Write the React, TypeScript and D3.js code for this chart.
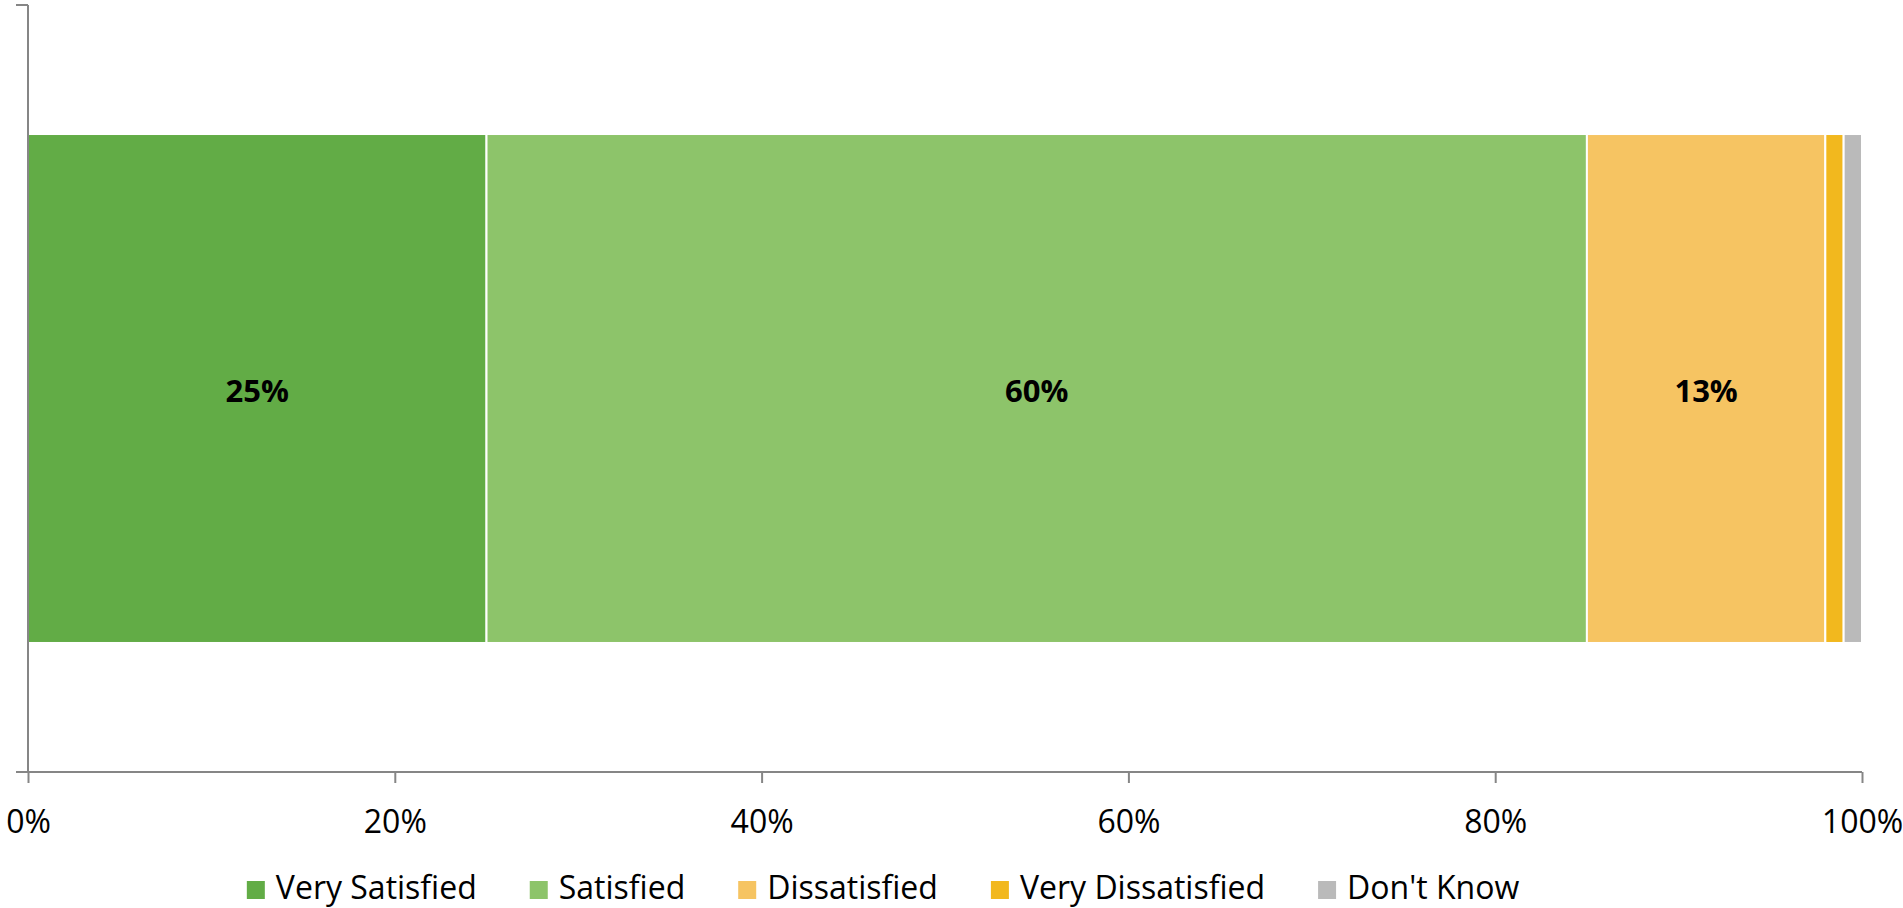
import React, { useEffect, useRef } from 'react';
import * as d3 from 'd3';

const categories = ['Very Satisfied', 'Satisfied', 'Dissatisfied', 'Very Dissatisfied', "Don't Know"];
const values = [25, 60, 13, 1, 1];
const colors = ['#62ac46', '#8dc46a', '#f6c462', '#f2b81e', '#bababa'];
const xTicks = [0, 20, 40, 60, 80, 100];
const barLabels = ['25%', '60%', '13%', '', ''];

const width = 1903;
const height = 908;
const fontFamily = "'Open Sans', sans-serif";

const App = () => {
	const ref = useRef<SVGSVGElement>(null);
	useEffect(() => drawChart(), []);

	function drawChart() {
		const svg = d3.select(ref.current);
		svg.selectAll('*').remove();

		const x = d3.scaleLinear().domain([0, 100]).range([28, 1862]);
		const y = d3.scaleBand().domain(['all']).range([5, 772]).paddingInner(0).paddingOuter(0.2535);

		// stacked segments
		let acc = 0;
		const segs = values.map((v, i) => {
			const s = { start: acc, end: acc + v, color: colors[i], label: barLabels[i] };
			acc += v;
			return s;
		});

		svg.selectAll('rect.seg')
			.data(segs)
			.enter()
			.append('rect')
			.attr('class', 'seg')
			.attr('x', (d) => x(d.start))
			.attr('y', y('all') as number)
			.attr('width', (d) => x(d.end) - x(d.start))
			.attr('height', y.bandwidth())
			.attr('fill', (d) => d.color)
			.attr('stroke', '#ffffff')
			.attr('stroke-width', 2);

		svg.selectAll('text.lab')
			.data(segs.filter((d) => d.label))
			.enter()
			.append('text')
			.attr('class', 'lab')
			.text((d) => d.label)
			.attr('x', (d) => (x(d.start) + x(d.end)) / 2)
			.attr('y', (y('all') as number) + y.bandwidth() / 2 + 13)
			.attr('text-anchor', 'middle')
			.attr('font-family', fontFamily)
			.attr('font-weight', 'bold')
			.attr('font-size', '31px')
			.attr('fill', '#000');

		// axes
		const axisColor = '#868686';
		svg.append('line')
			.attr('x1', x(0)).attr('x2', x(0))
			.attr('y1', 5).attr('y2', 772)
			.attr('stroke', axisColor).attr('stroke-width', 2);
		svg.append('line')
			.attr('x1', 16).attr('x2', x(0))
			.attr('y1', 5).attr('y2', 5)
			.attr('stroke', axisColor).attr('stroke-width', 2);

		const xAxis = d3.axisBottom(x)
			.tickValues(xTicks)
			.tickSize(11)
			.tickSizeOuter(0)
			.tickFormat((d) => d + '%');
		const gx = svg.append('g')
			.attr('transform', 'translate(0,772)')
			.call(xAxis);
		gx.select('.domain').remove();
		gx.append('line')
			.attr('x1', 16).attr('x2', x(100))
			.attr('stroke', axisColor).attr('stroke-width', 2);
		gx.selectAll('.tick line').attr('stroke', axisColor).attr('stroke-width', 2);
		gx.selectAll('.tick text')
			.attr('y', 61)
			.attr('dy', null)
			.attr('fill', '#000')
			.attr('font-family', fontFamily)
			.attr('font-size', '32px');

		// legend
		const legend = svg.append('g');
		const items = legend.selectAll('g')
			.data(categories)
			.enter()
			.append('g');
		items.append('rect')
			.attr('width', 18)
			.attr('height', 18)
			.attr('y', 881)
			.attr('fill', (d, i) => colors[i]);
		items.append('text')
			.text((d) => d)
			.attr('x', 29)
			.attr('y', 899)
			.attr('font-family', fontFamily)
			.attr('font-size', '32px')
			.attr('fill', '#000');
		let pos = 0;
		const offsets: number[] = [];
		items.each(function () {
			const t = d3.select(this).select('text').node() as SVGTextElement;
			offsets.push(pos);
			pos += 29 + t.getComputedTextLength() + 53;
		});
		const total = pos - 53;
		const start = 883 - total / 2;
		items.attr('transform', (d, i) => 'translate(' + (start + offsets[i]) + ',0)');
	}

	return <svg ref={ref} width={width} height={height} style={{ display: 'block', position: 'absolute', left: 0, top: 0 }}></svg>;
};

export default App;
